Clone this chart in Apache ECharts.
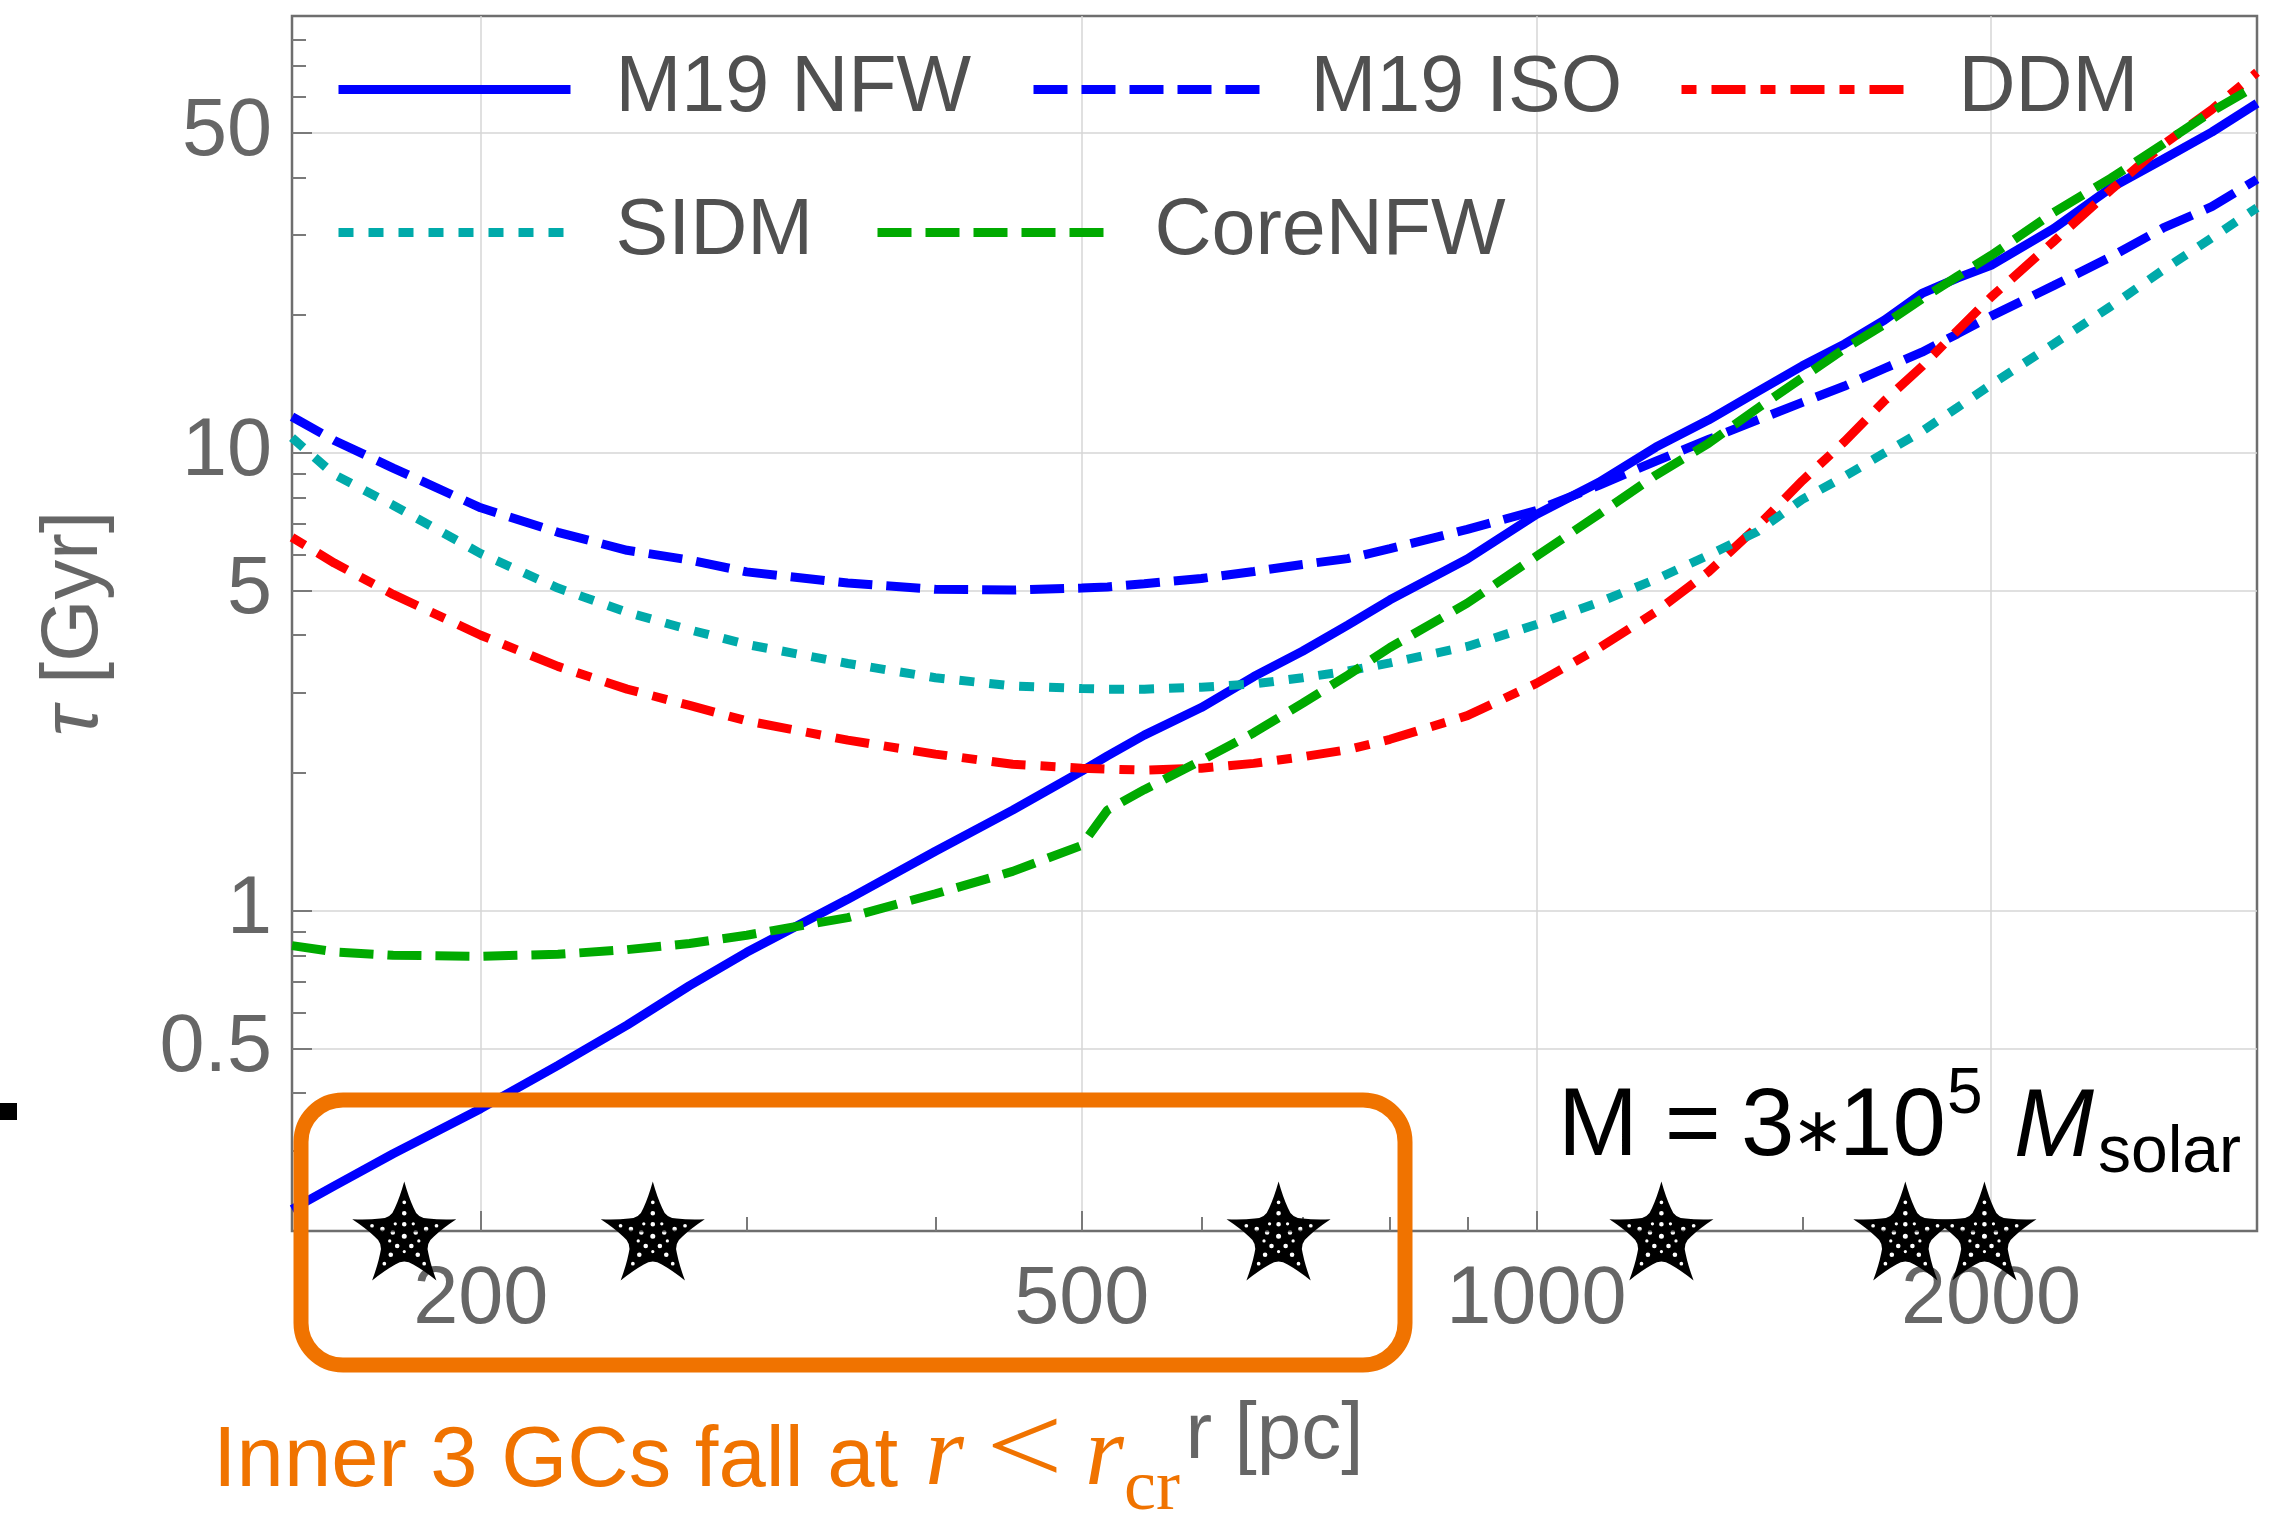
<!DOCTYPE html>
<html>
<head>
<meta charset="utf-8">
<script src="https://cdn.jsdelivr.net/npm/echarts@6/dist/echarts.min.js"></script>
<style>
  html, body { margin: 0; padding: 0; background: #ffffff; }
  #chart { width: 2279px; height: 1518px; }
</style>
</head>
<body>
<div id="chart"></div>
<script>
// Galactocentric radius r [pc] at which every model curve is sampled
const radii = [150, 160, 175, 200, 225, 250, 275, 300, 350, 400, 450, 500, 520, 550, 600, 650, 700, 750, 800, 900,
  1000, 1100, 1200, 1300, 1400, 1500, 1600, 1700, 1800, 1900, 2000, 2200, 2400, 2600, 2800, 3000];

// Dynamical-friction sinking time tau [Gyr] for each halo model
const tauM19NFW = [0.223, 0.251, 0.295, 0.370, 0.46, 0.563, 0.687, 0.812, 1.06, 1.35, 1.66, 2.02, 2.18, 2.42, 2.78, 3.25, 3.69, 4.21, 4.78, 5.87,
  7.34, 8.63, 10.3, 11.8, 13.6, 15.5, 17.3, 19.5, 22.3, 24.1, 25.7, 30.9, 37.9, 43.8, 50.2, 58.0];
const tauM19ISO = [12.0, 10.65, 9.27, 7.59, 6.71, 6.13, 5.84, 5.50, 5.20, 5.04, 5.02, 5.07, 5.10, 5.18, 5.32, 5.51, 5.71, 5.88, 6.18, 6.81,
  7.49, 8.5, 9.6, 10.7, 11.8, 12.9, 14.0, 15.3, 16.6, 18.2, 19.9, 23.2, 26.8, 31.0, 34.5, 39.6];
const tauDDM = [6.54, 5.75, 4.91, 4.00, 3.42, 3.05, 2.81, 2.60, 2.36, 2.20, 2.09, 2.05, 2.04, 2.03, 2.05, 2.10, 2.17, 2.25, 2.37, 2.67,
  3.14, 3.75, 4.5, 5.5, 6.9, 8.7, 10.6, 13.0, 15.45, 18.5, 21.9, 28.95, 37.5, 47.1, 56.2, 67.8];
const tauSIDM = [10.8, 8.97, 7.69, 6.03, 5.07, 4.49, 4.11, 3.82, 3.47, 3.23, 3.10, 3.06, 3.05, 3.05, 3.08, 3.13, 3.23, 3.34, 3.48, 3.78,
  4.22, 4.72, 5.3, 5.98, 6.73, 7.92, 8.89, 10.0, 11.15, 12.57, 14.1, 17.3, 20.9, 25.1, 29.5, 34.3];
const tauCoreNFW = [0.84, 0.814, 0.80, 0.796, 0.804, 0.823, 0.849, 0.885, 0.967, 1.09, 1.22, 1.39, 1.66, 1.84, 2.13, 2.45, 2.84, 3.27, 3.76, 4.70,
  5.95, 7.35, 8.95, 10.5, 12.5, 14.6, 16.9, 19.1, 21.7, 24.3, 27.0, 33.5, 39.8, 47.3, 55.7, 63.5];

// Projected radii of the six globular clusters [pc]
const gcRadii = [178, 260, 675, 1210, 1755, 1980];

// Axis ticks and labels
const xMajorTicks = [200, 500, 1000, 2000];
const xMinorTicks = [300, 400, 600, 700, 800, 900, 1500];
const yMajorTicks = [0.5, 1, 5, 10, 50];
const yMinorTicks = [0.3, 0.4, 0.6, 0.7, 0.8, 0.9, 2, 3, 4, 6, 7, 8, 9, 20, 30, 40, 60, 70, 80];

const seriesNames = ['M19 NFW', 'M19 ISO', 'DDM', 'SIDM', 'CoreNFW'];
const seriesValues = [tauM19NFW, tauM19ISO, tauDDM, tauSIDM, tauCoreNFW];

// ---- styling ----
const SANS = 'Liberation Sans';
const SERIF = 'Liberation Serif';
const FRAME = '#6e6e6e';
const TICK = '#7a7a7a';
const LABEL = '#666666';
const ORANGE = '#F07300';

const lineLooks = [
  { color: '#0000FF', type: 'solid' },
  { color: '#0000FF', type: [34, 14] },
  { color: '#FF0000', type: [15, 15, 34, 15] },
  { color: '#00AAAA', type: [15, 15] },
  { color: '#00AA00', type: [34, 14] }
];

// five-pointed star (clockwise) with rounded inner corners and dot holes (counter-clockwise)
function starfishSymbol() {
  const R = 50, cx = 50, cy = 50, ri = 0.44 * R;
  const deg = Math.PI / 180;
  const P = (rad, a) => [cx + rad * Math.cos(a), cy + rad * Math.sin(a)];
  const lerp = (p, q, t) => [p[0] + (q[0] - p[0]) * t, p[1] + (q[1] - p[1]) * t];
  const f = p => p[0].toFixed(2) + ' ' + p[1].toFixed(2);
  let d = '';
  for (let i = 0; i < 5; i++) {
    const aTip = (-90 + 72 * i) * deg;
    const tip = P(R, aTip);
    const inner = P(ri * 0.92, aTip + 36 * deg);
    const next = P(R, aTip + 72 * deg);
    const a = lerp(tip, inner, 0.72);
    const b = lerp(inner, next, 0.28);
    const bend0 = lerp(tip, a, 0.5), bend1 = lerp(b, next, 0.5);
    const pull = (p) => lerp(p, [cx, cy], 0.06);
    if (i === 0) d += 'M' + f(tip);
    d += ' Q' + f(pull(bend0)) + ' ' + f(a);
    d += ' Q' + f(inner) + ' ' + f(b);
    d += ' Q' + f(pull(bend1)) + ' ' + f(next);
  }
  d += ' Z';
  const hole = (x, y, r) => ' M' + (x + r).toFixed(2) + ' ' + y.toFixed(2) +
    ' A' + r + ' ' + r + ' 0 1 0 ' + (x - r).toFixed(2) + ' ' + y.toFixed(2) +
    ' A' + r + ' ' + r + ' 0 1 0 ' + (x + r).toFixed(2) + ' ' + y.toFixed(2) + ' Z';
  d += hole(cx, cy, 2.3);
  for (let i = 0; i < 5; i++) {
    const a = (-90 + 72 * i) * deg;
    [0.22, 0.42, 0.62].forEach((t, j) => {
      d += hole(cx + t * R * Math.cos(a), cy + t * R * Math.sin(a), j === 2 ? 1.7 : 2.1);
    });
    const am = a + 36 * deg;
    d += hole(cx + 0.28 * R * Math.cos(am), cy + 0.28 * R * Math.sin(am), 1.5);
  }
  return 'path://' + d;
}

const series = seriesNames.map((name, i) => ({
  name: name,
  type: 'line',
  xAxisIndex: 0,
  yAxisIndex: 0,
  data: radii.map((r, j) => [r, seriesValues[i][j]]),
  symbol: 'none',
  showSymbol: false,
  smooth: false,
  lineStyle: { color: lineLooks[i].color, width: 9, type: lineLooks[i].type, cap: 'butt' },
  itemStyle: { color: lineLooks[i].color },
  emphasis: { disabled: true },
  z: 3 + i
}));

series.push({
  name: 'GCs',
  type: 'scatter',
  xAxisIndex: 0,
  yAxisIndex: 0,
  data: gcRadii.map(r => [r, 0.2]),
  symbol: starfishSymbol(),
  symbolSize: [104, 99],
  symbolKeepAspect: false,
  itemStyle: { color: '#000000', opacity: 1 },
  clip: false,
  silent: true,
  emphasis: { disabled: true },
  z: 20
});

const legendSlots = [
  { name: 'M19 NFW', left: 334, top: 50 },
  { name: 'M19 ISO', left: 1029, top: 50 },
  { name: 'DDM', left: 1677, top: 50 },
  { name: 'SIDM', left: 334, top: 193 },
  { name: 'CoreNFW', left: 873, top: 193 }
];
const legends = legendSlots.map(s => ({
  data: [s.name],
  left: s.left,
  top: s.top,
  orient: 'horizontal',
  padding: 0,
  itemWidth: 232,
  itemHeight: 10,
  itemGap: 0,
  itemStyle: { opacity: 0, borderWidth: 0 },
  lineStyle: { width: 9 },
  textStyle: { fontFamily: SANS, fontSize: 79, color: '#505050', padding: [0, 0, 0, 40] }
}));

// text placement helper: y of the 'middle' line for a given alphabetic baseline
const mid = (baseline, fs) => baseline - 0.345 * fs;
function label(text, x, baseline, fs, opts) {
  opts = opts || {};
  return {
    type: 'text',
    x: x,
    y: mid(baseline, fs),
    scaleX: opts.scaleX || 1,
    z: 200,
    silent: true,
    style: {
      text: text,
      fontSize: fs,
      fontFamily: opts.family || SANS,
      fontStyle: opts.italic ? 'italic' : 'normal',
      fill: opts.color || '#000000',
      align: opts.align || 'left',
      verticalAlign: 'middle'
    }
  };
}

const option = {
  animation: false,
  backgroundColor: '#ffffff',
  grid: {
    left: 292, top: 16, width: 1965, height: 1215,
    show: true, borderColor: FRAME, borderWidth: 2.5, backgroundColor: 'transparent',
    containLabel: false
  },
  legend: legends,
  xAxis: [
    {
      type: 'log', logBase: 10, min: 150, max: 3000, position: 'bottom',
      axisLine: { show: false },
      axisTick: { show: true, inside: true, length: 20, customValues: xMajorTicks, lineStyle: { color: TICK, width: 2 } },
      axisLabel: { show: true, customValues: xMajorTicks, margin: 29, fontSize: 81, fontFamily: SANS, color: LABEL,
        formatter: v => String(Math.round(v)) },
      splitLine: { show: true, lineStyle: { color: '#d6d6d6', width: 1.5 } },
      minorTick: { show: false }, minorSplitLine: { show: false },
      name: 'r [pc]', nameLocation: 'middle', nameGap: 165,
      nameTextStyle: { fontSize: 80, fontFamily: SANS, color: LABEL }
    },
    {
      type: 'log', logBase: 10, min: 150, max: 3000, position: 'bottom',
      axisLine: { show: false },
      axisTick: { show: true, inside: true, length: 14, customValues: xMinorTicks, lineStyle: { color: TICK, width: 2 } },
      axisLabel: { show: false },
      splitLine: { show: false }
    }
  ],
  yAxis: [
    {
      type: 'log', logBase: 10, min: 0.2, max: 90, position: 'left',
      axisLine: { show: false },
      axisTick: { show: true, inside: true, length: 20, customValues: yMajorTicks, lineStyle: { color: TICK, width: 2 } },
      axisLabel: { show: true, customValues: yMajorTicks, margin: 20, fontSize: 81, fontFamily: SANS, color: LABEL,
        formatter: v => String(v) },
      splitLine: { show: true, lineStyle: { color: '#d6d6d6', width: 1.5 } },
      minorTick: { show: false }, minorSplitLine: { show: false },
      name: '{t|τ} [Gyr]', nameLocation: 'middle', nameGap: 177, nameRotate: 90,
      nameTextStyle: { fontSize: 80, fontFamily: SANS, color: LABEL,
        rich: { t: { fontSize: 80, fontFamily: SANS, fontStyle: 'italic', color: LABEL } } }
    },
    {
      type: 'log', logBase: 10, min: 0.2, max: 90, position: 'left',
      axisLine: { show: false },
      axisTick: { show: true, inside: true, length: 14, customValues: yMinorTicks, lineStyle: { color: TICK, width: 2 } },
      axisLabel: { show: false },
      splitLine: { show: false }
    }
  ],
  series: series,
  graphic: [
    // region holding the three innermost clusters
    {
      type: 'rect', z: 150, silent: true,
      shape: { x: 301, y: 1100, width: 1104, height: 265, r: 42 },
      style: { fill: 'none', stroke: ORANGE, lineWidth: 15 }
    },
    { type: 'rect', z: 150, silent: true, shape: { x: 0, y: 1103, width: 17, height: 17 }, style: { fill: '#000000' } },
    // halo mass annotation
    label('M =', 1558, 1162, 96),
    label('3', 1741, 1162, 96),
    label('\u2217', 1818, 1156, 62, { family: 'DejaVu Sans', align: 'center' }),
    label('10', 1839, 1162, 96),
    label('5', 1947, 1117, 64),
    label('M', 2014, 1162, 96, { italic: true }),
    label('solar', 2098, 1177, 66),
    // note on the inner clusters
    label('Inner 3 GCs fall at', 213, 1492, 85, { color: ORANGE }),
    label('r', 925, 1492, 100, { family: SERIF, italic: true, color: ORANGE }),
    label('<', 986, 1492, 112, { family: SERIF, color: ORANGE, scaleX: 1.22 }),
    label('r', 1085, 1492, 100, { family: SERIF, italic: true, color: ORANGE }),
    label('cr', 1124, 1515, 72, { family: SERIF, color: ORANGE })
  ]
};

const chart = echarts.init(document.getElementById('chart'), null, { renderer: 'canvas' });
chart.setOption(option);
</script>
</body>
</html>
